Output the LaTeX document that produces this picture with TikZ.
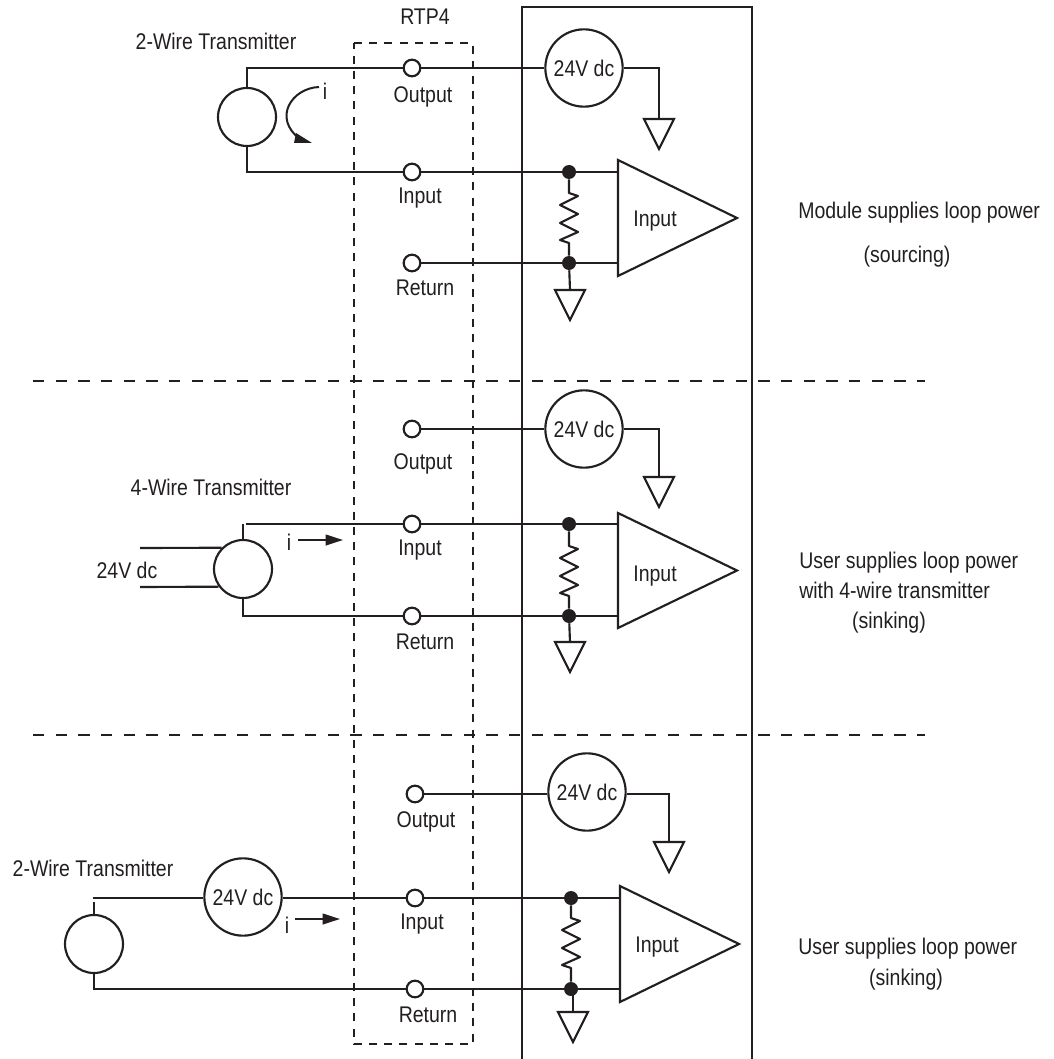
\documentclass[tikz,border=0pt]{standalone}
\usepackage{fontspec}
\setmainfont[FakeStretch=0.86]{Liberation Sans}
\usetikzlibrary{arrows.meta}
\definecolor{ink}{HTML}{231F20}
\tikzset{
  wire/.style={draw=ink,line width=1.6pt,line join=miter},
  dashbox/.style={draw=ink,line width=1.4pt,dash pattern=on 6pt off 5.4pt},
  divider/.style={draw=ink,line width=1.3pt,dash pattern=on 8.5pt off 8.5pt},
  term/.style={circle,draw=ink,line width=1.6pt,fill=white,minimum size=12.5pt,inner sep=0pt},
  xmtr/.style={circle,draw=ink,line width=1.6pt,fill=white,minimum size=43.5pt,inner sep=0pt},
  supply/.style={circle,draw=ink,line width=1.6pt,fill=white,minimum size=58pt,inner sep=0pt,text=ink,font=\fontsize{17}{20}\selectfont},
  dotj/.style={circle,fill=ink,minimum size=10.5pt,inner sep=0pt},
  lbl/.style={text=ink,inner sep=0pt,font=\fontsize{17}{20}\selectfont,yshift=-1.5pt},
  lblL/.style={lbl,anchor=west},
  flow/.style={draw=ink,line width=1.4pt,-{Triangle[length=13pt,width=8pt]}},
}
% ground symbol: top-centre coordinate #1 at (#2,#3)
\newcommand{\gndsym}[3]{%
  \coordinate (#1) at (#2,#3);
  \draw[wire,line join=miter] (#1) ++(-15,0) -- ++(30,0) -- ++(-15,30) -- cycle;
}
% amplifier triangle: #1 name, #2 x, #3 top y, #4 tip x, #5 bottom y
\newcommand{\ampsym}[5]{%
  \coordinate (#1) at (#2,{(#3+#5)/2});
  \draw[wire] (#2,#3) -- (#4,{(#3+#5)/2}) -- (#2,#5) -- cycle;
}
% resistor between dots #1 and #2: zigzag from y=#4 at x=#3
\newcommand{\ressym}[4]{%
  \draw[wire,line join=round] (#1) -- (#3,#4) -- (#3+9,#4+3) -- (#3-9,#4+12) -- (#3+9,#4+21) -- (#3-9,#4+30) -- (#3+9,#4+39) -- (#3-9,#4+47) -- (#3,#4+50) -- (#2);
}
\begin{document}
\begin{tikzpicture}[x=0.75pt,y=-0.75pt]
\useasboundingbox (0,0) rectangle (1053,1059);
\fill[white] (0,0) rectangle (1053,1059);

% frames
\coordinate (fa) at (522,1059); \coordinate (fb) at (522,7); \coordinate (fc) at (752,7); \coordinate (fd) at (752,1059);
\draw[wire] (fa) -- (fb) -- (fc) -- (fd);
\coordinate (ba) at (354,43); \coordinate (bb) at (473,43); \coordinate (bc) at (473,1044); \coordinate (bd) at (354,1044);
\draw[dashbox] (ba) -- (bb) -- (bc) -- (bd) -- cycle;
\coordinate (d1a) at (33,381); \coordinate (d1b) at (925,381);
\coordinate (d2a) at (33,735); \coordinate (d2b) at (925,735);
\draw[divider] (d1a) -- (d1b);
\draw[divider] (d2a) -- (d2b);
\node[lbl] (rtp) at (425,15) {RTP4};

% ---- section 1
\node[lbl] (t1) at (216,39) {2-Wire Transmitter};
\node[xmtr] (x1) at (247,117) {};
\node[term] (o1) at (412,68) {};
\node[term] (i1) at (412,172) {};
\node[term] (r1) at (412,263) {};
\node[lbl] (lo1) at (423,95) {Output};
\node[lbl] (li1) at (420,196) {Input};
\node[lbl] (lr1) at (425,286) {Return};
\node[supply] (v1) at (584,68) {24V dc};
\node[dotj] (di1) at (569,172) {};
\node[dotj] (dr1) at (569,263) {};
\gndsym{go1}{659}{119}
\gndsym{gr1}{570}{290}
\ampsym{a1}{618}{160}{737}{276}
\node[lbl] (la1) at (655,219) {Input};
\draw[wire] (x1.north) |- (o1);
\draw[wire] (x1.south) |- (i1);
\draw[wire] (o1) -- (v1);
\draw[wire] (v1) -| (go1);
\draw[wire] (i1) -- (di1);
\draw[wire] (di1) -- (a1 |- di1);
\draw[wire] (r1) -- (dr1);
\draw[wire] (dr1) -- (a1 |- dr1);
\ressym{di1}{dr1}{569}{193}
\draw[wire] (dr1) -- (gr1);
\coordinate (c1) at (319,87); \coordinate (c2) at (300,139);
\draw[draw=ink,line width=1.5pt] (c1) .. controls (292,88) and (272,118) .. (c2);
\fill[ink] (294,143) -- (312,143) -- (296,133) -- cycle;
\node[lbl] (ci) at (325,89) {i};

% ---- section 2
\node[lbl] (t2) at (211,485) {4-Wire Transmitter};
\node[xmtr] (x2) at (243,569) {};
\node[term] (o2) at (412,429) {};
\node[term] (i2) at (412,524) {};
\node[term] (r2) at (412,616) {};
\node[lbl] (lo2) at (423,462) {Output};
\node[lbl] (li2) at (420,548) {Input};
\node[lbl] (lr2) at (425,640) {Return};
\node[supply] (v2) at (584,429) {24V dc};
\node[dotj] (di2) at (569,524) {};
\node[dotj] (dr2) at (569,616) {};
\gndsym{go2}{659}{477}
\gndsym{gr2}{570}{642}
\ampsym{a2}{618}{513}{737}{628}
\node[lbl] (la2) at (655,574) {Input};
\coordinate (s2) at (243,524); \coordinate (w2) at (246,524);
\draw[wire] (x2.north) -- (s2);
\draw[wire] (w2) -- (i2);
\draw[wire] (x2.south) |- (r2);
\draw[wire] (o2) -- (v2);
\draw[wire] (v2) -| (go2);
\draw[wire] (i2) -- (di2);
\draw[wire] (di2) -- (a2 |- di2);
\draw[wire] (r2) -- (dr2);
\draw[wire] (dr2) -- (a2 |- dr2);
\ressym{di2}{dr2}{569}{546}
\draw[wire] (dr2) -- (gr2);
\coordinate (p2a) at (140,548); \coordinate (p2b) at (140,587);
\draw[wire] (p2a) -- (x2.135.6);
\draw[wire] (p2b) -- (x2.216.9);
\node[lbl] (lv2) at (127,568) {24V dc};
\node[lbl] (ci2) at (289,540) {i};
\coordinate (f2a) at (298,540); \coordinate (f2b) at (343,540);
\draw[flow] (f2a) -- (f2b);

% ---- section 3
\node[lbl] (t3) at (93,866) {2-Wire Transmitter};
\node[xmtr] (x3) at (94,944) {};
\node[supply] (s3) at (243,897) {24V dc};
\node[term] (o3) at (415,794) {};
\node[term] (i3) at (415,898) {};
\node[term] (r3) at (415,989) {};
\node[lbl] (lo3) at (426,820) {Output};
\node[lbl] (li3) at (422,922) {Input};
\node[lbl] (lr3) at (428,1013) {Return};
\node[supply] (v3) at (587,792) {24V dc};
\node[dotj] (di3) at (571,898) {};
\node[dotj] (dr3) at (571,989) {};
\gndsym{go3}{669}{842}
\gndsym{gr3}{573}{1012}
\ampsym{a3}{620}{886}{739}{1002}
\node[lbl] (la3) at (657,945) {Input};
\coordinate (w3) at (93,898); \coordinate (u3) at (94,902);
\draw[wire] (x3.north) -- (u3);
\draw[wire] (w3) -- (w3 -| s3.west);
\draw[wire] (i3 -| s3.east) -- (i3);
\draw[wire] (x3.south) |- (r3);
\draw[wire] (o3) -- (o3 -| v3.west);
\draw[wire] (o3 -| v3.east) -| (go3);
\draw[wire] (i3) -- (di3);
\draw[wire] (di3) -- (a3 |- di3);
\draw[wire] (r3) -- (dr3);
\draw[wire] (dr3) -- (a3 |- dr3);
\ressym{di3}{dr3}{571}{918}
\coordinate (g3t) at (573,989);
\draw[wire] (g3t) -- (gr3);
\node[lbl] (ci3) at (287,923) {i};
\coordinate (f3a) at (295,919); \coordinate (f3b) at (340,919);
\draw[flow] (f3a) -- (f3b);

% ---- right-hand notes
\node[lblL] (n1) at (798,211) {Module supplies loop power};
\node[lbl] (n1b) at (907,255) {(sourcing)};
\node[lblL] (n2) at (799,561) {User supplies loop power};
\node[lblL] (n2b) at (799,588) {with 4-wire transmitter};
\node[lbl] (n2c) at (889,621) {(sinking)};
\node[lblL] (n3) at (798,947) {User supplies loop power};
\node[lbl] (n3b) at (906,978) {(sinking)};
\end{tikzpicture}
\end{document}
